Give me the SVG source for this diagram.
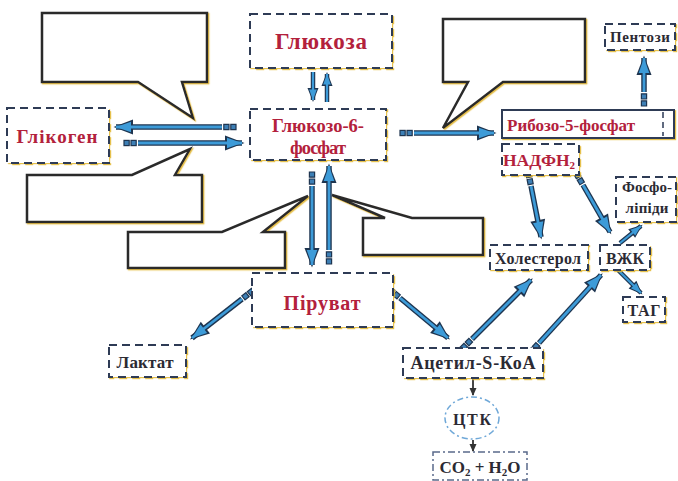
<svg xmlns="http://www.w3.org/2000/svg" width="678" height="481" viewBox="0 0 678 481">
<defs>
<filter id="ys" x="-10%" y="-10%" width="120%" height="125%"><feDropShadow dx="1.2" dy="1.2" stdDeviation="0.4" flood-color="#e2b62e" flood-opacity="0.85"/></filter>
<marker id="ho" markerUnits="userSpaceOnUse" viewBox="-20 -10 24 20" markerWidth="24" markerHeight="20" refX="0" refY="0" orient="auto"><path d="M-17,-7.5 L2.5,0 L-17,7.5 z" fill="#1e3550"/></marker>
<marker id="hi" markerUnits="userSpaceOnUse" viewBox="-20 -10 24 20" markerWidth="24" markerHeight="20" refX="0" refY="0" orient="auto"><path d="M-15,-5.3 L0,0 L-15,5.3 z" fill="#3d9bd8"/></marker>
<marker id="ho2" markerUnits="userSpaceOnUse" viewBox="-16 -8 20 16" markerWidth="20" markerHeight="16" refX="0" refY="0" orient="auto"><path d="M-12,-5.5 L2,0 L-12,5.5 z" fill="#1e3550"/></marker>
<marker id="hi2" markerUnits="userSpaceOnUse" viewBox="-16 -8 20 16" markerWidth="20" markerHeight="16" refX="0" refY="0" orient="auto"><path d="M-10.5,-3.8 L0,0 L-10.5,3.8 z" fill="#3d9bd8"/></marker>
<marker id="tail" markerUnits="userSpaceOnUse" viewBox="-16 -5 17 10" markerWidth="17" markerHeight="10" refX="0" refY="0" orient="auto"><rect x="-14" y="-2.6" width="5.2" height="5.2" fill="#3d7fb5" stroke="#1e3550" stroke-width="1.2"/><rect x="-7" y="-2.6" width="5.2" height="5.2" fill="#3d7fb5" stroke="#1e3550" stroke-width="1.2"/></marker>
<marker id="hk" markerUnits="userSpaceOnUse" viewBox="-8 -5 10 10" markerWidth="10" markerHeight="10" refX="0" refY="0" orient="auto"><path d="M-7,-3.5 L1,0 L-7,3.5 z" fill="#333"/></marker>
</defs>
<style>
.box{fill:#fff;stroke:#2d3a55;stroke-width:2;stroke-dasharray:8 5;filter:url(#ys)}
.solid{fill:#fff;stroke:#2d3a55;stroke-width:2;filter:url(#ys)}
.call{fill:#fff;stroke:#2b2b2b;stroke-width:2.5;stroke-linejoin:miter;filter:url(#ys)}
.t{font-family:"Liberation Serif","DejaVu Serif",serif;font-weight:bold;text-anchor:middle}
.r{fill:#b3213c}
.d{fill:#2b2a33}
.ao{fill:none;stroke:#1e3550;stroke-width:5.5;marker-end:url(#ho);marker-start:url(#tail)}
.ai{fill:none;stroke:#3d9bd8;stroke-width:2.8;marker-end:url(#hi)}
.ao2{fill:none;stroke:#1e3550;stroke-width:4.5;marker-end:url(#ho2)}
.ai2{fill:none;stroke:#3d9bd8;stroke-width:2.2;marker-end:url(#hi2)}
.k{fill:none;stroke:#333;stroke-width:1.8;marker-end:url(#hk)}
</style>
<rect width="678" height="481" fill="#fff"/>

<g id="callouts">
<polygon id="callout-tl" class="call" points="42,13 207,13 207,82 182,82 193,118 138,82 42,82"/>
<polygon id="callout-bl" class="call" points="27,175 132,175 190,149 175,175 202,175 202,222 27,222"/>
<polygon id="callout-ml" class="call" points="128,232 222,232 308,196 263,232 285,232 285,268 128,268"/>
<polygon id="callout-mr" class="call" points="363,218 385,218 332,195 412,218 483,218 483,255 363,255"/>
<polygon id="callout-tr" class="call" points="443,19 585,19 585,82 503,82 443,128 468,82 443,82"/>
</g>

<g id="connectors">
<line class="ao" x1="222" y1="127" x2="116" y2="127"/><line class="ai" x1="222" y1="127" x2="116" y2="127"/>
<line class="ao" x1="138" y1="143" x2="242" y2="143"/><line class="ai" x1="138" y1="143" x2="242" y2="143"/>
<line class="ao2" x1="313" y1="72" x2="313" y2="100"/><line class="ai2" x1="313" y1="72" x2="313" y2="100"/>
<line class="ao2" x1="327" y1="102" x2="327" y2="74"/><line class="ai2" x1="327" y1="102" x2="327" y2="74"/>
<line class="ao" x1="414" y1="133" x2="494" y2="133"/><line class="ai" x1="414" y1="133" x2="494" y2="133"/>
<line class="ao" x1="644" y1="92" x2="644" y2="58"/><line class="ai" x1="644" y1="92" x2="644" y2="58"/>
<line class="ao" x1="312" y1="186" x2="312" y2="265"/><line class="ai" x1="312" y1="186" x2="312" y2="265"/>
<line class="ao" x1="329" y1="250" x2="329" y2="166"/><line class="ai" x1="329" y1="250" x2="329" y2="166"/>
<line class="ao" x1="242" y1="299" x2="192" y2="338"/><line class="ai" x1="242" y1="299" x2="192" y2="338"/>
<line class="ao" x1="400" y1="298" x2="448" y2="338"/><line class="ai" x1="400" y1="298" x2="448" y2="338"/>
<line class="ao" x1="472" y1="339" x2="531" y2="280"/><line class="ai" x1="472" y1="339" x2="531" y2="280"/>
<line class="ao" x1="539" y1="343" x2="601" y2="275"/><line class="ai" x1="539" y1="343" x2="601" y2="275"/>
<line class="ao" x1="531" y1="186" x2="541" y2="237"/><line class="ai" x1="531" y1="186" x2="541" y2="237"/>
<line class="ao" x1="583" y1="185" x2="610" y2="232"/><line class="ai" x1="583" y1="185" x2="610" y2="232"/>
<line class="ao2" x1="620" y1="243" x2="641" y2="226"/><line class="ai2" x1="620" y1="243" x2="641" y2="226"/>
<line class="ao2" x1="618" y1="270" x2="641" y2="293"/><line class="ai2" x1="618" y1="270" x2="641" y2="293"/>
<line class="k" x1="473" y1="379" x2="473" y2="395"/>
<line class="k" x1="473" y1="440" x2="473" y2="451"/>
</g>

<g id="n-glucose"><rect class="box" x="250" y="14" width="142" height="54"/><text class="t r" x="321" y="49" font-size="23" textLength="92">Глюкоза</text></g>
<g id="n-glycogen"><rect class="box" x="7" y="108" width="102" height="55"/><text class="t r" x="57" y="143" font-size="19" textLength="81">Глікоген</text></g>
<g id="n-g6p"><rect class="box" x="250" y="109" width="136" height="51"/><text class="t r" x="318" y="131.5" font-size="18.5" textLength="92">Глюкозо-6-</text><text class="t r" x="318" y="153.5" font-size="18.5" textLength="56">фосфат</text></g>
<g id="n-ribose"><rect class="solid" x="502" y="110" width="172" height="28"/><line x1="663" y1="112" x2="663" y2="136" stroke="#2d3a55" stroke-width="1.5" stroke-dasharray="6 4"/><text class="t r" x="507" y="131" font-size="17" textLength="128" style="text-anchor:start">Рибозо-5-фосфат</text></g>
<g id="n-pentose"><rect class="box" x="605" y="24" width="70" height="26"/><text class="t d" x="640" y="42" font-size="15" textLength="60">Пентози</text></g>
<g id="n-nadph"><rect class="box" x="502" y="144" width="77" height="31"/><text class="t r" x="539" y="166" font-size="17.5">НАДФН<tspan font-size="11" dy="3">2</tspan></text></g>
<g id="n-phospholipids"><rect class="box" x="616" y="177" width="60" height="45"/><text class="t d" x="647" y="192" font-size="15" textLength="50">Фосфо-</text><text class="t d" x="647" y="213" font-size="15" textLength="43">ліпіди</text></g>
<g id="n-cholesterol"><rect class="box" x="490" y="245" width="98" height="25"/><text class="t d" x="538" y="263.5" font-size="16" textLength="86">Холестерол</text></g>
<g id="n-ffa"><rect class="box" x="600" y="245" width="50" height="25"/><text class="t d" x="625" y="263.5" font-size="16" textLength="38">ВЖК</text></g>
<g id="n-tag"><rect class="box" x="623" y="297" width="42" height="25"/><text class="t d" x="644" y="315.5" font-size="16" textLength="33">ТАГ</text></g>
<g id="n-pyruvate"><rect class="box" x="252" y="273" width="141" height="54"/><text class="t r" x="322" y="310" font-size="20" textLength="77">Піруват</text></g>
<g id="n-lactate"><rect class="box" x="109" y="345" width="77" height="32"/><text class="t d" x="145" y="368" font-size="17" textLength="57">Лактат</text></g>
<g id="n-acetyl"><rect class="box" x="403" y="348" width="140" height="30"/><text class="t d" x="473" y="369" font-size="18" textLength="125">Ацетил-S-КоА</text></g>
<g id="n-tca"><ellipse cx="472" cy="418" rx="27" ry="21" fill="#fff" stroke="#6fa8d8" stroke-width="1.5" stroke-dasharray="6 3 2 3"/><text class="t d" x="472" y="425" font-size="16" textLength="38">ЦТК</text></g>
<g id="n-co2"><rect x="433" y="452" width="94" height="28" fill="#fff" stroke="#5a6a8a" stroke-width="1.5" stroke-dasharray="7 3 2 3"/><text class="t d" x="480" y="473" font-size="17">CO<tspan font-size="11" dy="3">2</tspan><tspan dy="-3"> + H</tspan><tspan font-size="11" dy="3">2</tspan><tspan dy="-3">O</tspan></text></g>
</svg>
